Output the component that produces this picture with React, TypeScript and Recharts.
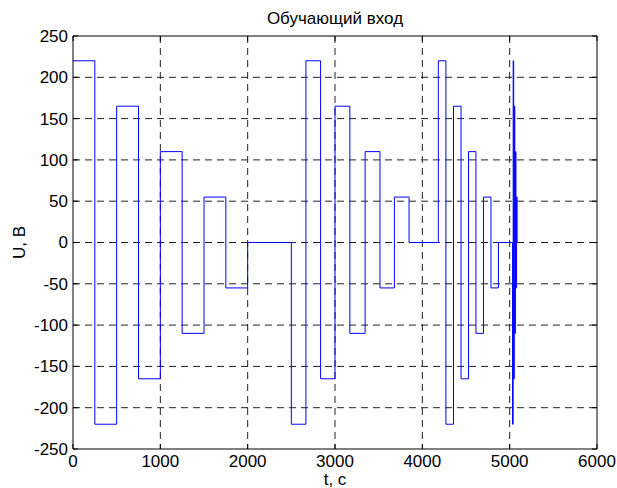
import React from 'react';
import { LineChart, Line, XAxis, YAxis, CartesianGrid } from 'recharts';

// Step signal: each cycle = switching times (s) and voltage levels (V)
const cycle1Time = [0, 250, 500, 750, 1000, 1250, 1500, 1750, 2000];
const cycle1Volt = [220, -220, 165, -165, 110, -110, 55, -55, 0];
const cycle2Time = [2500, 2667, 2835, 3000, 3170, 3345, 3515, 3680, 3848];
const cycle2Volt = [-220, 220, -165, 165, -110, 110, -55, 55, 0];
const cycle3Time = [4183, 4270, 4357, 4443, 4529, 4614, 4700, 4786, 4871];
const cycle3Volt = [220, -220, 165, -165, 110, -110, 55, -55, 0];
const cycle4Time = [5033, 5040, 5046, 5053, 5059, 5066, 5072, 5079, 5085];
const cycle4Volt = [-220, 220, -165, 165, -110, 110, -55, 55, 0];

const xTicks = [0, 1000, 2000, 3000, 4000, 5000, 6000];
const yTicks = [-250, -200, -150, -100, -50, 0, 50, 100, 150, 200, 250];

const title = 'Обучающий вход';
const xLabel = 't, c';
const yLabel = 'U, B';

const zip = (t: number[], u: number[]) => t.map((tt, i) => ({ t: tt, u: u[i] }));
const data = [
  ...zip(cycle1Time, cycle1Volt),
  ...zip(cycle2Time, cycle2Volt),
  ...zip(cycle3Time, cycle3Volt),
  ...zip(cycle4Time, cycle4Volt),
];

const FONT = '"Liberation Sans", Arial, Helvetica, sans-serif';
const FS = 17;
const TL = 5;
const BM = 6;
const LM = 5;

const BottomTick = (p: any) => (
  <g>
    <line x1={p.x} x2={p.x} y1={p.y - BM} y2={p.y - BM - TL} stroke="#000" />
    <text x={p.x} y={p.y} dy="0.71em" textAnchor="middle" fontSize={FS} fontFamily={FONT} fill="#000">
      {p.payload.value}
    </text>
  </g>
);
const LeftTick = (p: any) => (
  <g>
    <line x1={p.x + LM} x2={p.x + LM + TL} y1={p.y} y2={p.y} stroke="#000" />
    <text x={p.x} y={p.y} dy="0.35em" textAnchor="end" fontSize={FS} fontFamily={FONT} fill="#000">
      {p.payload.value}
    </text>
  </g>
);
const TopTick = (p: any) => (
  <line x1={p.x} x2={p.x} y1={p.y} y2={p.y + TL} stroke="#000" />
);
const RightTick = (p: any) => (
  <line x1={p.x - TL} x2={p.x} y1={p.y} y2={p.y} stroke="#000" />
);

export default function App() {
  return (
    <div style={{ position: 'absolute', left: 0, top: 0, width: 617, height: 488, background: '#fff' }}>
      <LineChart width={617} height={488} data={data} margin={{ top: 0, right: 0, bottom: 0, left: 0 }}>
        <CartesianGrid
          xAxisId="b"
          yAxisId="l"
          stroke="#222"
          strokeDasharray="7 5"
          verticalValues={[1000, 2000, 3000, 4000, 5000]}
          horizontalValues={[-200, -150, -100, -50, 0, 50, 100, 150, 200]}
        />
        <XAxis
          xAxisId="b"
          dataKey="t"
          type="number"
          domain={[0, 6000]}
          ticks={xTicks}
          allowDataOverflow
          height={39}
          tickSize={0}
          tickMargin={BM}
          tick={BottomTick}
          axisLine={{ stroke: '#000' }}
          label={{ value: xLabel, position: 'insideBottom', offset: 3, fontSize: FS, fontFamily: FONT, fill: '#000' }}
        />
        <XAxis
          xAxisId="t"
          orientation="top"
          dataKey="t"
          type="number"
          domain={[0, 6000]}
          ticks={xTicks}
          allowDataOverflow
          height={36}
          tickSize={0}
          tickMargin={0}
          tick={TopTick}
          axisLine={{ stroke: '#000' }}
          label={{ value: title, position: 'insideTop', offset: 12, fontSize: FS, fontFamily: FONT, fill: '#000' }}
        />
        <YAxis
          yAxisId="l"
          type="number"
          domain={[-250, 250]}
          ticks={yTicks}
          allowDataOverflow
          width={73}
          tickSize={0}
          tickMargin={LM}
          tick={LeftTick}
          axisLine={{ stroke: '#000' }}
          label={{ value: yLabel, angle: -90, position: 'insideLeft', offset: 19, fontSize: FS, fontFamily: FONT, fill: '#000', style: { textAnchor: 'middle' } }}
        />
        <YAxis
          yAxisId="r"
          orientation="right"
          type="number"
          domain={[-250, 250]}
          ticks={yTicks}
          allowDataOverflow
          width={20}
          tickSize={0}
          tickMargin={0}
          tick={RightTick}
          axisLine={{ stroke: '#000' }}
        />
        <Line
          xAxisId="b"
          yAxisId="l"
          type="stepAfter"
          dataKey="u"
          stroke="#0000ff"
          strokeWidth={1}
          dot={false}
          activeDot={false}
          isAnimationActive={false}
        />
      </LineChart>
    </div>
  );
}
